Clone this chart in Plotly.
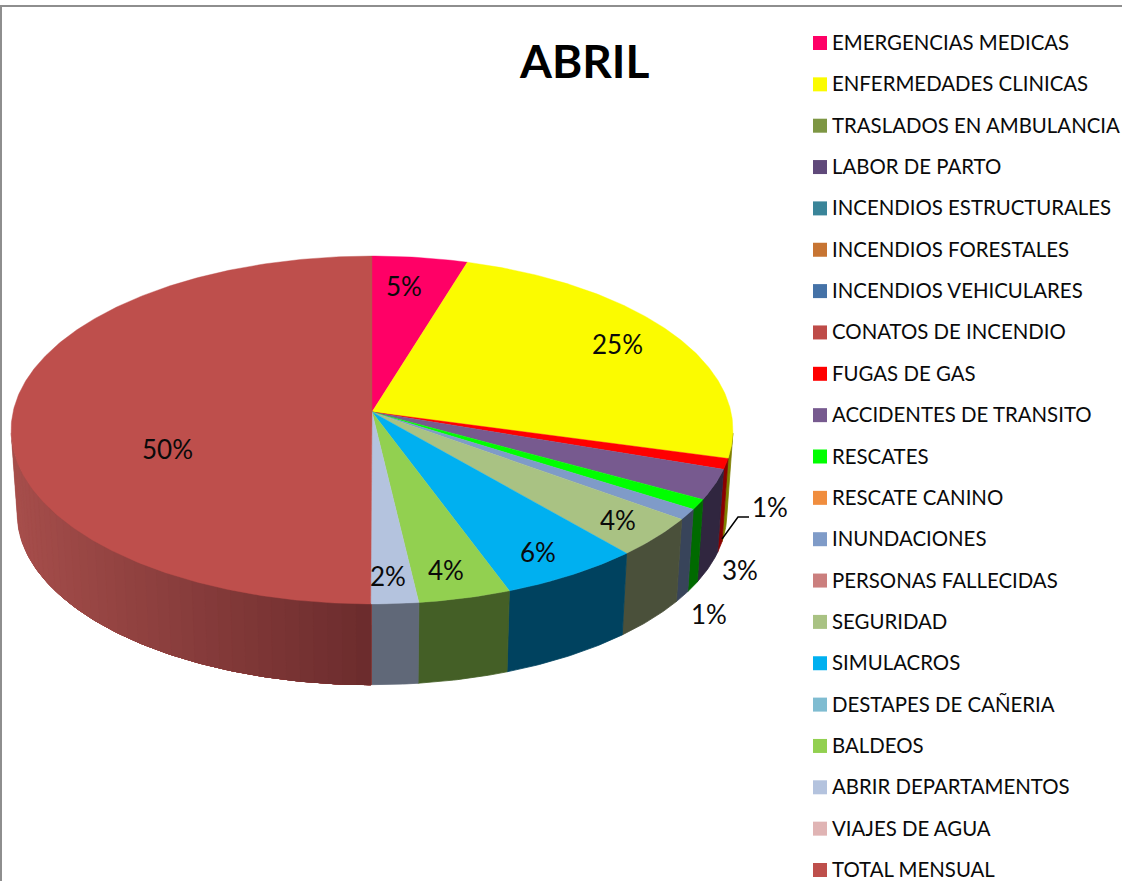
import math
import plotly.graph_objects as go

categories = ["EMERGENCIAS MEDICAS", "ENFERMEDADES CLINICAS", "TRASLADOS EN AMBULANCIA", "LABOR DE PARTO",
              "INCENDIOS ESTRUCTURALES", "INCENDIOS FORESTALES", "INCENDIOS VEHICULARES", "CONATOS DE INCENDIO",
              "FUGAS DE GAS", "ACCIDENTES DE TRANSITO", "RESCATES", "RESCATE CANINO", "INUNDACIONES",
              "PERSONAS FALLECIDAS", "SEGURIDAD", "SIMULACROS", "DESTAPES DE CAÑERIA", "BALDEOS",
              "ABRIR DEPARTAMENTOS", "VIAJES DE AGUA", "TOTAL MENSUAL"]
values = [4.72, 24.54, 0, 0, 0, 0, 0, 0, 0.99, 2.8, 0.95, 0, 1.0, 0, 3.7, 5.73, 0, 3.75, 1.92, 0, 50.0]
colors = ["#FF0066", "#FBFB00", "#7D9643", "#5F497A", "#3A8599", "#C77432", "#4572A7", "#BE4B48",
          "#FF0000", "#775A8F", "#00FF00", "#F08D3E", "#7F9BC8", "#CB7F7E", "#A9C283", "#00B0F0",
          "#7FBCD1", "#92D050", "#B4C3DE", "#E0B4B4", "#BE4F4C"]
wall_colors = {
    "ENFERMEDADES CLINICAS": ("#7F7F00", "#7F7F00"), "FUGAS DE GAS": ("#8A0000", "#8A0000"),
    "ACCIDENTES DE TRANSITO": ("#30263F", "#30263F"), "RESCATES": ("#006A00", "#006A00"),
    "INUNDACIONES": ("#38445A", "#38445A"), "SEGURIDAD": ("#4A503A", "#4A503A"),
    "SIMULACROS": ("#00425F", "#00425F"), "BALDEOS": ("#3F5320", "#445F26"),
    "ABRIR DEPARTAMENTOS": ("#5F6776", "#606878"), "TOTAL MENSUAL": ("#6A2B2C", "#A84F4C"),
}
# label text per visible data label, with placement on the picture
pct_labels = [("EMERGENCIAS MEDICAS", 404, 286), ("ENFERMEDADES CLINICAS", 617, 344), ("FUGAS DE GAS", 770, 507),
              ("ACCIDENTES DE TRANSITO", 740, 570), ("RESCATES", 709, 614), ("SEGURIDAD", 618, 520),
              ("SIMULACROS", 538, 552), ("BALDEOS", 446, 570), ("ABRIR DEPARTAMENTOS", 388, 576),
              ("TOTAL MENSUAL", 167, 449)]

# projection of the tilted disc
CX, CY, A, B, K = 372.0, 412.0, 359.0, 172.1, 0.1034
S, CY2 = 0.983, 496.0


def project(theta, scale=1.0, cy=CY):
    u, v = math.sin(theta), math.cos(theta)
    w = 1 + K * v
    return CX + scale * A * u / w, cy - scale * B * v / w


def arc(t0, t1, scale=1.0, cy=CY):
    n = max(2, int(abs(t1 - t0) / 0.01))
    pts = [project(t0 + (t1 - t0) * i / n, scale, cy) for i in range(n + 1)]
    return [p[0] for p in pts], [p[1] for p in pts]


def mix(c0, c1, f):
    a = [int(c0[i:i + 2], 16) for i in (1, 3, 5)]
    b = [int(c1[i:i + 2], 16) for i in (1, 3, 5)]
    return "rgb(%d,%d,%d)" % tuple(round(x + (y - x) * f) for x, y in zip(a, b))


def poly(xs, ys, color, width=0.8):
    return go.Scatter(x=xs, y=ys, mode="lines", fill="toself", fillcolor=color,
                      line=dict(color=color, width=width), hoverinfo="skip", showlegend=False)


fig = go.Figure()
total = sum(values)
spans = []
acc = 0.0
for name, val, col in zip(categories, values, colors):
    if val > 0:
        spans.append((name, acc / total * 2 * math.pi, (acc + val) / total * 2 * math.pi, col))
    acc += val

# side walls: only the part of the rim that faces the viewer
FRONT_R = math.radians(97)
FRONT_L = math.radians(263)
for name, t0, t1, col in spans:
    if name not in wall_colors:
        continue
    c0, c1 = wall_colors[name]
    if name == "TOTAL MENSUAL":
        # painter's order: each band runs on to the front so no seams show through
        bands = 40
        start = FRONT_L
        for i in range(bands):
            a0 = start + (t0 - start) * i / bands
            f = min(1.0, abs(math.sin(a0)))
            xt, yt = arc(a0, t0)
            xb, yb = arc(a0, t0, S, CY2)
            fig.add_trace(poly(xt + xb[::-1] + xt[:1], yt + yb[::-1] + yt[:1], mix(c0, c1, f), 0.3))
    else:
        a0 = max(t0, FRONT_R)
        xt, yt = arc(a0, t1)
        xb, yb = arc(a0, t1, S, CY2)
        fig.add_trace(poly(xt + xb[::-1] + xt[:1], yt + yb[::-1] + yt[:1], c1))

# top faces
for name, t0, t1, col in spans:
    xt, yt = arc(t0, t1)
    fig.add_trace(poly([CX] + xt + [CX], [CY] + yt + [CY], col, 0.4))

# legend rows
annotations = []
for i, (name, col) in enumerate(zip(categories, colors)):
    y = 43 + i * 41.35
    fig.add_trace(go.Scatter(x=[820], y=[y], mode="markers", name=name, showlegend=False,
                             marker=dict(symbol="square", size=14, color=col, line=dict(width=0)),
                             hovertemplate=name + "<extra></extra>"))
    annotations.append(dict(x=830, y=y - 1, text=name, xanchor="left", yanchor="middle", showarrow=False,
                            font=dict(family="Lato", size=20.4, color="#0A0A0A")))

value_of = dict(zip(categories, values))
for name, x, y in pct_labels:
    annotations.append(dict(x=x, y=y, text=f"{round(value_of[name])}%", xanchor="center", yanchor="middle",
                            showarrow=False, font=dict(family="Lato", size=26, color="#0A0A0A")))
annotations.append(dict(x=584, y=60, text="<b>ABRIL</b>", xanchor="center", yanchor="middle", showarrow=False,
                        font=dict(family="Lato", size=46, color="#000000")))

shapes = [
    dict(type="line", x0=1, x1=1, y0=6, y1=881, line=dict(color="#8E8E8E", width=2)),
    dict(type="line", x0=0, x1=1122, y0=6, y1=6, line=dict(color="#8E8E8E", width=2)),
    dict(type="path", path="M 722 539 L 738 517 L 749 517", line=dict(color="#000000", width=1.5)),
]

fig.update_layout(
    width=1122, height=881, margin=dict(l=0, r=0, t=0, b=0), showlegend=False,
    paper_bgcolor="#FFFFFF", plot_bgcolor="#FFFFFF", annotations=annotations, shapes=shapes,
    xaxis=dict(range=[0, 1122], visible=False, fixedrange=True),
    yaxis=dict(range=[881, 0], visible=False, fixedrange=True),
)
fig.write_html("out.html", config={"displayModeBar": False},
               post_script="document.body.style.margin='0';document.body.style.overflow='hidden';")
